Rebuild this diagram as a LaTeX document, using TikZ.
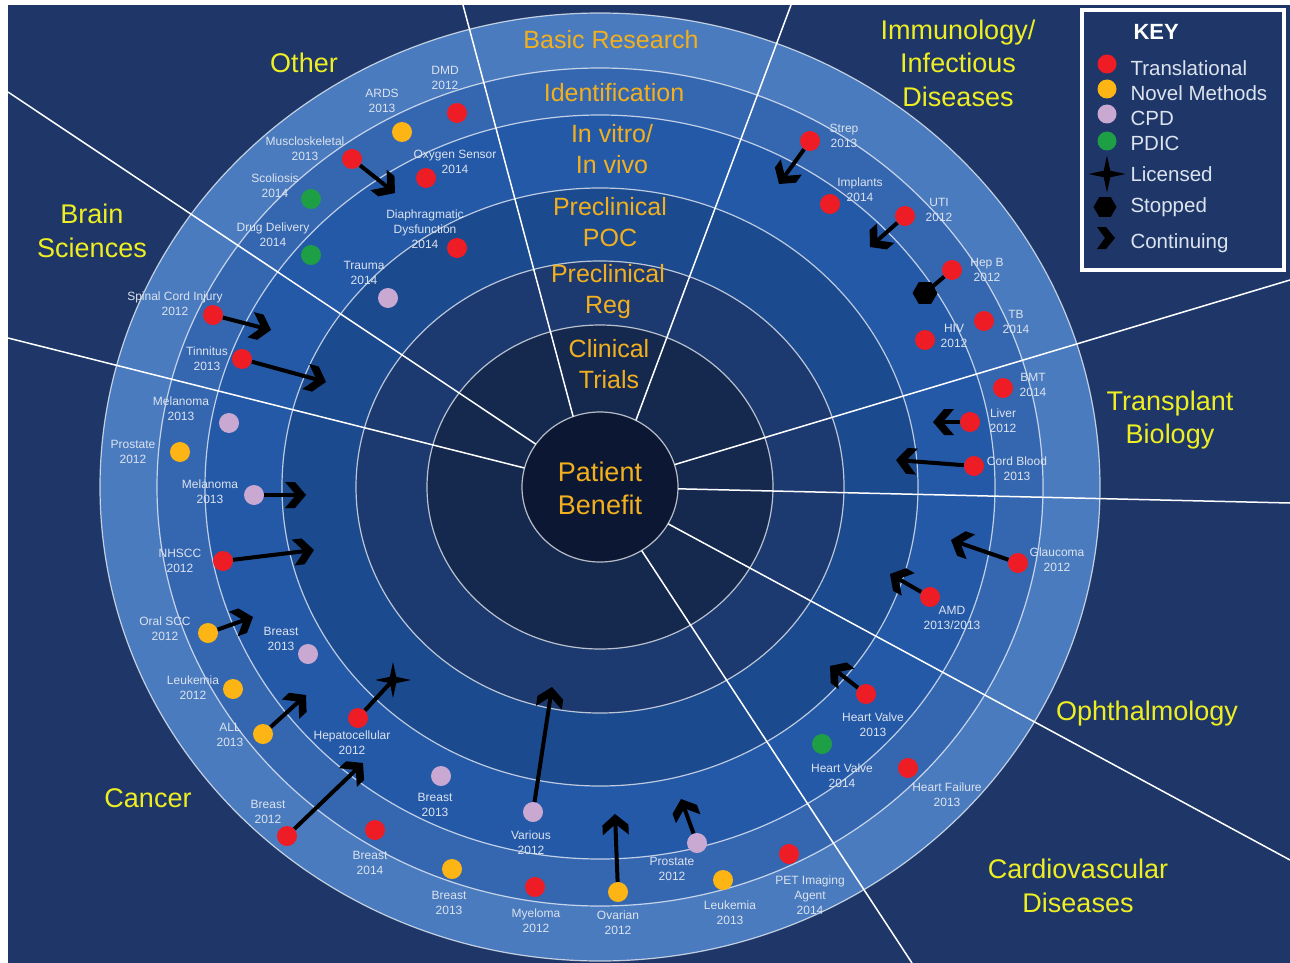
\documentclass[tikz,border=0pt]{standalone}
\usepackage{fontspec}
\setmainfont{Liberation Sans}
\usetikzlibrary{arrows.meta,shapes.geometric}

\definecolor{bgnavy}{HTML}{1E3768}
\definecolor{bandA}{HTML}{4A7BBF}
\definecolor{bandB}{HTML}{3567B1}
\definecolor{bandC}{HTML}{2459A8}
\definecolor{bandD}{HTML}{1B4A8E}
\definecolor{bandE}{HTML}{1C3970}
\definecolor{bandF}{HTML}{15294F}
\definecolor{hubnavy}{HTML}{0C1833}
\definecolor{tred}{HTML}{EE1C25}
\definecolor{torange}{HTML}{FDB515}
\definecolor{tlilac}{HTML}{C9A9D2}
\definecolor{tgreen}{HTML}{1E9E45}
\definecolor{lblgray}{HTML}{DCE3EE}
\definecolor{stageorange}{HTML}{F2B01E}
\definecolor{areayellow}{HTML}{EEEE22}

% thick chevron head for projects still moving on
\pgfdeclarearrow{
  name = Chevron,
  setup code = {
    \pgfarrowssettipend{0pt}
    \pgfarrowssetbackend{-21pt}
    \pgfarrowssetlineend{-8pt}
  },
  drawing code = {
    \pgfpathmoveto{\pgfqpoint{0pt}{0pt}}
    \pgfpathlineto{\pgfqpoint{-11pt}{13pt}}
    \pgfpathlineto{\pgfqpoint{-21pt}{13pt}}
    \pgfpathlineto{\pgfqpoint{-10pt}{0pt}}
    \pgfpathlineto{\pgfqpoint{-21pt}{-13pt}}
    \pgfpathlineto{\pgfqpoint{-11pt}{-13pt}}
    \pgfpathclose
    \pgfusepathqfill
  }
}

\begin{document}
\begin{tikzpicture}[x=1pt, y=-1pt,
    dot/.style={circle, inner sep=0pt, minimum size=20pt},
    transl/.style={dot, fill=tred},
    novel/.style={dot, fill=torange},
    cpd/.style={dot, fill=tlilac},
    pdic/.style={dot, fill=tgreen},
    lbl/.style={text=lblgray, font=\fontsize{12}{15}\selectfont, align=center, inner sep=0pt},
    shaft/.style={black, line width=4pt},
    go/.style={shaft, -Chevron},
    lic/.style={star, star points=4, star point ratio=4, fill=black, inner sep=0pt, minimum size=36pt},
    stopped/.style={regular polygon, regular polygon sides=6, fill=black, inner sep=0pt, minimum size=25pt},
    stage/.style={text=stageorange, font=\fontsize{25}{31}\selectfont, align=center},
    area/.style={text=areayellow, font=\fontsize{27}{33.5}\selectfont, align=center},
    ring/.style={draw=white, draw opacity=0.7, line width=1.2pt},
    spoke/.style={white, line width=1.5pt}]

  \useasboundingbox (0,0) rectangle (1290,963);
  \fill[white] (0,0) rectangle (1290,963);
  \fill[bgnavy] (8,5) rectangle (1290,963);

  % target rings
  \coordinate (hub) at (600,487);
  \fill[bandA] (hub) ellipse [x radius=500pt, y radius=474pt];
  \fill[bandB] (hub) ellipse [x radius=443pt, y radius=419pt];
  \fill[bandC] (hub) ellipse [x radius=395pt, y radius=372pt];
  \fill[bandD] (hub) ellipse [x radius=318pt, y radius=299pt];
  \fill[bandE] (hub) ellipse [x radius=244pt, y radius=226pt];
  \fill[bandF] (hub) ellipse [x radius=173pt, y radius=162pt];
  \draw[ring] (hub) ellipse [x radius=500pt, y radius=474pt];
  \draw[ring] (hub) ellipse [x radius=443pt, y radius=419pt];
  \draw[ring] (hub) ellipse [x radius=395pt, y radius=372pt];
  \draw[ring] (hub) ellipse [x radius=318pt, y radius=299pt];
  \draw[ring] (hub) ellipse [x radius=244pt, y radius=226pt];
  \draw[ring] (hub) ellipse [x radius=173pt, y radius=162pt];

  % sector borders
  \draw[spoke] (hub) -- (8,92);
  \draw[spoke] (hub) -- (8,338);
  \draw[spoke] (592,487) -- (463,5);
  \draw[spoke] (611,487) -- (791,5);
  \draw[spoke] (hub) -- (1290,280);
  \draw[spoke] (hub) -- (1290,503);
  \draw[spoke] (hub) -- (1290,860);
  \draw[spoke] (hub) -- (912,963);
  \fill[hubnavy] (hub) ellipse [x radius=78pt, y radius=75pt];
  \draw[ring] (hub) ellipse [x radius=78pt, y radius=75pt];

  % stages
  \node[stage] (basic) at (611,40) {Basic Research};
  \node[stage] (ident) at (614,93) {Identification};
  \node[stage] (invitro) at (612,149) {In vitro/\\In vivo};
  \node[stage] (poc) at (610,222) {Preclinical\\POC};
  \node[stage] (reg) at (608,292) {Preclinical\\Reg};
  \node[stage] (trials) at (609,364) {Clinical\\Trials};
  \node[stage, font=\fontsize{27}{33}\selectfont] (benefit) at (600,488) {Patient\\Benefit};

  % areas
  \node[area] (other) at (304,63) {Other};
  \node[area] (brain) at (92,231) {Brain\\Sciences};
  \node[area] (cancer) at (148,798) {Cancer};
  \node[area] (cardio) at (1078,886) {Cardiovascular\\Diseases};
  \node[area] (ophth) at (1147,714) {Ophthalmology};
  \node[area] (transp) at (1170,420) {Transplant\\Biology};
  \node[area] (immuno) at (958,63) {Immunology/\\Infectious\\Diseases};

  % other
  \node[transl] (dmd) at (457,113) {};
  \node[lbl] (dmd-l) at (445,78) {DMD\\2012};
  \node[novel] (ards) at (402,132) {};
  \node[lbl] (ards-l) at (382,101) {ARDS\\2013};
  \node[transl] (musc) at (352,159) {};
  \node[lbl] (musc-l) at (305,149) {Muscloskeletal\\2013};
  \node[transl] (oxy) at (426,178) {};
  \node[lbl] (oxy-l) at (455,162) {Oxygen Sensor\\2014};
  \node[pdic] (scol) at (311,199) {};
  \node[lbl] (scol-l) at (275,186) {Scoliosis\\2014};
  \node[pdic] (drug) at (311,255) {};
  \node[lbl] (drug-l) at (273,235) {Drug Delivery\\2014};
  \node[transl] (diaph) at (457,248) {};
  \node[lbl] (diaph-l) at (425,229) {Diaphragmatic\\Dysfunction\\2014};
  \node[cpd] (trauma) at (388,298) {};
  \node[lbl] (trauma-l) at (364,273) {Trauma\\2014};

  % brain sciences
  \node[transl] (sci) at (213,315) {};
  \node[lbl] (sci-l) at (175,304) {Spinal Cord Injury\\2012};
  \node[transl] (tinn) at (242,359) {};
  \node[lbl] (tinn-l) at (207,359) {Tinnitus\\2013};

  % cancer
  \node[cpd] (mel1) at (229,423) {};
  \node[lbl] (mel1-l) at (181,409) {Melanoma\\2013};
  \node[novel] (pros1) at (180,452) {};
  \node[lbl] (pros1-l) at (133,452) {Prostate\\2012};
  \node[cpd] (mel2) at (254,495) {};
  \node[lbl] (mel2-l) at (210,492) {Melanoma\\2013};
  \node[transl] (nhscc) at (223,561) {};
  \node[lbl] (nhscc-l) at (180,561) {NHSCC\\2012};
  \node[novel] (oscc) at (208,633) {};
  \node[lbl] (oscc-l) at (165,629) {Oral SCC\\2012};
  \node[cpd] (br1) at (308,654) {};
  \node[lbl] (br1-l) at (281,639) {Breast\\2013};
  \node[novel] (leuk1) at (233,689) {};
  \node[lbl] (leuk1-l) at (193,688) {Leukemia\\2012};
  \node[novel] (all) at (263,734) {};
  \node[lbl] (all-l) at (230,735) {ALL\\2013};
  \node[transl] (hcc) at (358,718) {};
  \node[lbl] (hcc-l) at (352,743) {Hepatocellular\\2012};
  \node[transl] (br2) at (287,836) {};
  \node[lbl] (br2-l) at (268,812) {Breast\\2012};
  \node[cpd] (br3) at (441,776) {};
  \node[lbl] (br3-l) at (435,805) {Breast\\2013};
  \node[cpd] (var) at (533,812) {};
  \node[lbl] (var-l) at (531,843) {Various\\2012};
  \node[transl] (br4) at (375,830) {};
  \node[lbl] (br4-l) at (370,863) {Breast\\2014};
  \node[novel] (br5) at (452,869) {};
  \node[lbl] (br5-l) at (449,903) {Breast\\2013};
  \node[transl] (myel) at (535,887) {};
  \node[lbl] (myel-l) at (536,921) {Myeloma\\2012};
  \node[novel] (ovar) at (618,892) {};
  \node[lbl] (ovar-l) at (618,923) {Ovarian\\2012};
  \node[cpd] (pros2) at (697,843) {};
  \node[lbl] (pros2-l) at (672,869) {Prostate\\2012};
  \node[novel] (leuk2) at (723,880) {};
  \node[lbl] (leuk2-l) at (730,913) {Leukemia\\2013};

  % cardiovascular
  \node[transl] (pet) at (789,854) {};
  \node[lbl] (pet-l) at (810,895) {PET Imaging\\Agent\\2014};
  \node[pdic] (hv1) at (822,744) {};
  \node[lbl] (hv1-l) at (842,776) {Heart Valve\\2014};
  \node[transl] (hf) at (908,768) {};
  \node[lbl] (hf-l) at (947,795) {Heart Failure\\2013};
  \node[transl] (hv2) at (866,694) {};
  \node[lbl] (hv2-l) at (873,725) {Heart Valve\\2013};

  % ophthalmology
  \node[transl] (glau) at (1018,563) {};
  \node[lbl] (glau-l) at (1057,560) {Glaucoma\\2012};
  \node[transl] (amd) at (930,597) {};
  \node[lbl] (amd-l) at (952,618) {AMD\\2013/2013};

  % transplant
  \node[transl] (bmt) at (1003,388) {};
  \node[lbl] (bmt-l) at (1033,385) {BMT\\2014};
  \node[transl] (liver) at (970,422) {};
  \node[lbl] (liver-l) at (1003,421) {Liver\\2012};
  \node[transl] (cord) at (974,466) {};
  \node[lbl] (cord-l) at (1017,469) {Cord Blood\\2013};

  % immunology
  \node[transl] (strep) at (810,141) {};
  \node[lbl] (strep-l) at (844,136) {Strep\\2013};
  \node[transl] (impl) at (830,204) {};
  \node[lbl] (impl-l) at (860,190) {Implants\\2014};
  \node[transl] (uti) at (905,216) {};
  \node[lbl] (uti-l) at (939,210) {UTI\\2012};
  \node[transl] (hepb) at (952,270) {};
  \node[lbl] (hepb-l) at (987,270) {Hep B\\2012};
  \node[transl] (tb) at (984,321) {};
  \node[lbl] (tb-l) at (1016,322) {TB\\2014};
  \node[transl] (hiv) at (925,340) {};
  \node[lbl] (hiv-l) at (954,336) {HIV\\2012};

  % progress
  \coordinate (musc-e) at (395,193);
  \coordinate (sci-e) at (271,330);
  \coordinate (tinn-e) at (326,382);
  \coordinate (mel2-e) at (306,495);
  \coordinate (nhscc-e) at (314,550);
  \coordinate (oscc-e) at (253,617);
  \coordinate (all-e) at (306,695);
  \coordinate (br2-e) at (363,763);
  \coordinate (var-e) at (552,687);
  \coordinate (ovar-e) at (615,814);
  \coordinate (pros2-e) at (681,799);
  \coordinate (hv2-e) at (830,666);
  \coordinate (amd-e) at (890,574);
  \coordinate (glau-e) at (951,540);
  \coordinate (cord-e) at (896,460);
  \coordinate (liver-e) at (933,422);
  \coordinate (uti-e) at (870,247);
  \coordinate (strep-e) at (779,184);
  \draw[go] (musc) -- (musc-e);
  \draw[go] (sci) -- (sci-e);
  \draw[go] (tinn) -- (tinn-e);
  \draw[go] (mel2) -- (mel2-e);
  \draw[go] (nhscc) -- (nhscc-e);
  \draw[go] (oscc) -- (oscc-e);
  \draw[go] (all) -- (all-e);
  \draw[go] (br2) -- (br2-e);
  \draw[go] (var) -- (var-e);
  \draw[go] (ovar) -- (ovar-e);
  \draw[go] (pros2) -- (pros2-e);
  \draw[go] (hv2) -- (hv2-e);
  \draw[go] (amd) -- (amd-e);
  \draw[go] (glau) -- (glau-e);
  \draw[go] (cord) -- (cord-e);
  \draw[go] (liver) -- (liver-e);
  \draw[go] (uti) -- (uti-e);
  \draw[go] (strep) -- (strep-e);
  \node[lic] (hcc-lic) at (393,680) {};
  \draw[shaft] (hcc) -- (hcc-lic.center);
  \node[stopped] (hepb-stop) at (925,293) {};
  \draw[shaft] (hepb) -- (hepb-stop.center);

  % key
  \node[draw=white, line width=3.5pt, fill=bgnavy, minimum width=202pt, minimum height=260pt] (key) at (1183,140) {};
  \node[anchor=west, text=white, font=\fontsize{22}{26}\selectfont\bfseries] (key-t) at (1130,32) {KEY};
  \node[transl, minimum size=19pt] (k1) at (1107,64) {};
  \node[novel, minimum size=19pt] (k2) at (1107,89) {};
  \node[cpd, minimum size=19pt] (k3) at (1107,114) {};
  \node[pdic, minimum size=19pt] (k4) at (1107,141) {};
  \node[lic, minimum size=37pt] (k5) at (1107,174) {};
  \node[stopped, minimum size=23pt] (k6) at (1105,207) {};
  \fill[black] (1097,227) -- (1106,227) -- (1115,238) -- (1106,249) -- (1097,249) -- (1105,238) -- cycle;
  \node[anchor=west, text=lblgray, font=\fontsize{20.5}{24}\selectfont] (k1-t) at (1127,68) {Translational};
  \node[anchor=west, text=lblgray, font=\fontsize{20.5}{24}\selectfont] (k2-t) at (1127,93) {Novel Methods};
  \node[anchor=west, text=lblgray, font=\fontsize{20.5}{24}\selectfont] (k3-t) at (1127,118) {CPD};
  \node[anchor=west, text=lblgray, font=\fontsize{20.5}{24}\selectfont] (k4-t) at (1127,143) {PDIC};
  \node[anchor=west, text=lblgray, font=\fontsize{20.5}{24}\selectfont] (k5-t) at (1127,174) {Licensed};
  \node[anchor=west, text=lblgray, font=\fontsize{20.5}{24}\selectfont] (k6-t) at (1127,207) {Stopped};
  \node[anchor=west, text=lblgray, font=\fontsize{20.5}{24}\selectfont] (k7-t) at (1127,243) {Continuing};
\end{tikzpicture}
\end{document}
